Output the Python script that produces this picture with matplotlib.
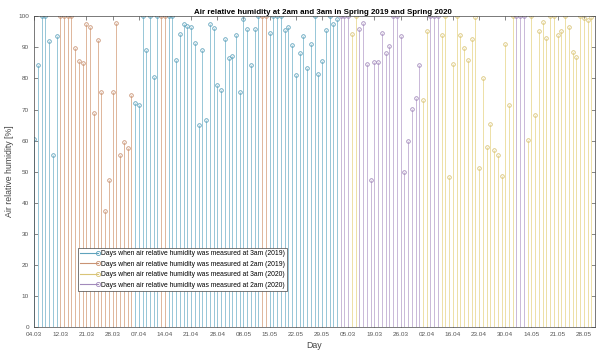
import numpy as np
import matplotlib.pyplot as plt
from matplotlib.lines import Line2D
from matplotlib.legend_handler import HandlerLine2D

plt.rcParams['font.family'] = ['Liberation Sans', 'DejaVu Sans']

# one measurement per day, numbered along the x axis (2019 first, then 2020)
day_labels = ['04.03', '12.03', '21.03', '28.03', '07.04', '14.04', '21.04', '28.04',
              '08.05', '15.05', '22.05', '29.05', '05.03', '19.03', '26.03', '02.04',
              '16.04', '23.04', '30.04', '14.05', '21.05', '28.05']

# 3am, 2019
day_3am_2019 = list(range(1, 8)) + list(range(28, 35)) + list(range(37, 62)) + list(range(64, 83))
rh_3am_2019 = [60.4, 84.3, 100, 100, 92, 55.5, 93.7,
               72, 71.6, 100, 89.1, 100, 80.5, 100,
               100, 100, 86.1, 94.3, 97.5, 96.9, 96.5, 91.3, 65, 89.1, 66.6, 97.5, 96.1,
               77.8, 76.2, 92.7, 86.7, 87.2, 94, 75.7, 99, 95.9, 84.3, 95.9, 100,
               94.8, 100, 100, 100, 95.6, 96.7, 90.8, 81.1, 88.3, 93.7, 83.4, 91, 100,
               81.6, 85.6, 95.6, 100, 97.5, 99]

# 2am, 2019
day_2am_2019 = list(range(8, 28)) + [35, 36, 62, 63]
rh_2am_2019 = [100, 100, 100, 100, 89.9, 85.7, 85, 97.7, 96.7, 69, 92.4, 75.6, 37.5,
               47.2, 75.6, 98, 55.5, 59.6, 57.7, 74.6,
               100, 100, 100, 100]

# 3am, 2020
day_3am_2020 = [86, 87, 105, 106] + list(range(110, 130)) + list(range(133, 151))
rh_3am_2020 = [94.3, 100, 73.2, 95.4,
               94, 100, 48.3, 84.8, 100, 94, 89.7, 85.9, 92.6, 99.7, 51.3, 80.2, 58,
               65.5, 56.9, 55.3, 48.6, 91, 71.6, 100,
               60.1, 100, 68.4, 95.4, 98.3, 92.9, 100, 100, 94, 95.4, 100, 96.7, 88.6,
               87, 100, 99.4, 98.8, 99.7]

# 2am, 2020
day_2am_2020 = [83, 84, 85] + list(range(88, 105)) + [107, 108, 109, 130, 131, 132]
rh_2am_2020 = [100, 100, 100,
               95.8, 98, 84.6, 47.2, 85.2, 85.2, 94.7, 88.1, 90.5, 100, 100, 93.7, 49.9,
               59.8, 70.3, 73.8, 84.5,
               100, 100, 100, 100, 100, 100]

# (days, values, stem colour, marker colour, legend text)
series = [
    (day_3am_2019, rh_3am_2019, '#96c6d7', '#5fa3bc', 'Days when air relative humidity was measured at 3am (2019)'),
    (day_2am_2019, rh_2am_2019, '#deb69b', '#c99374', 'Days when air relative humidity was measured at 2am (2019)'),
    (day_3am_2020, rh_3am_2020, '#ede0a6', '#d9c477', 'Days when air relative humidity was measured at 3am (2020)'),
    (day_2am_2020, rh_2am_2020, '#c9b8d8', '#a28abb', 'Days when air relative humidity was measured at 2am (2020)'),
]


class StemLegendHandler(HandlerLine2D):
    # legend entry as a short stem: line with the circle at its right end
    def create_artists(self, legend, orig_handle, xdescent, ydescent, width,
                       height, fontsize, trans):
        artists = super().create_artists(legend, orig_handle, xdescent, ydescent,
                                         width, height, fontsize, trans)
        line = artists[0]
        line.set_markevery([len(line.get_xdata()) - 1])
        return artists


fig = plt.figure(figsize=(5.98, 3.56), dpi=100)
ax = fig.add_axes([0.057, 0.0815, 0.938, 0.8725])

handles = []
for days, rh, stem_color, mark_color, label in series:
    markerline, stemlines, baseline = ax.stem(days, rh, basefmt=' ')
    stemlines.set_color(stem_color)
    stemlines.set_linewidth(0.7)
    markerline.set_marker('o')
    markerline.set_markersize(2.6)
    markerline.set_markerfacecolor('none')
    markerline.set_markeredgecolor(mark_color)
    markerline.set_markeredgewidth(0.6)
    markerline.set_linestyle('none')
    handles.append(Line2D([], [], color=mark_color, lw=0.8, marker='o', markersize=3,
                          markerfacecolor='none', markeredgecolor=mark_color,
                          markeredgewidth=0.6, label=label))

ax.set_xlim(1, 151)
ax.set_ylim(0, 100)
ax.set_xticks(np.arange(1, 149, 7))
ax.set_xticklabels(day_labels)
ax.set_yticks(np.arange(0, 101, 10))

ax.tick_params(direction='in', length=3, width=0.5, labelsize=4.6,
               colors='#555555', top=True, right=True, pad=3.5)
for spine in ax.spines.values():
    spine.set_linewidth(0.5)
    spine.set_color('#444444')

ax.set_title('Air relative humidity at 2am and 3am in Spring 2019 and Spring 2020',
             fontsize=5.7, fontweight='bold', pad=2, x=0.515)
ax.set_xlabel('Day', fontsize=6.3, color='#444444', labelpad=3)
ax.set_ylabel('Air relative humidity [%]', fontsize=6.3, color='#444444', labelpad=3)

leg = ax.legend(handles=handles, loc='lower left', bbox_to_anchor=(0.078, 0.116),
                fontsize=4.9, handlelength=2.6, handletextpad=0.4,
                borderpad=0.35, labelspacing=0.5, borderaxespad=0, fancybox=False,
                framealpha=1, edgecolor='#444444',
                handler_map={Line2D: StemLegendHandler(numpoints=1)})
leg.get_frame().set_linewidth(0.5)

fig.savefig('out.png', dpi=100)
